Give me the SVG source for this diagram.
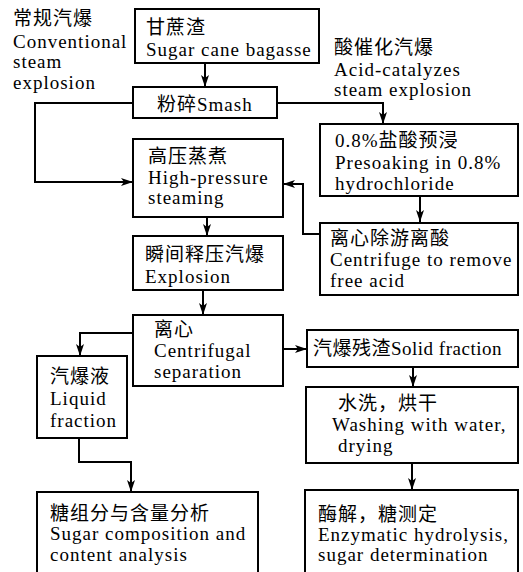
<svg xmlns="http://www.w3.org/2000/svg" width="523" height="572" viewBox="0 0 523 572">
<defs>
<style>
.box{fill:#fff;stroke:#000;stroke-width:2}
.ln{fill:none;stroke:#000;stroke-width:2}
.arr{marker-end:url(#ah)}
text{font-family:"Liberation Serif","Noto Sans CJK SC",serif;font-size:19px;fill:#000;letter-spacing:1px}
</style>
<marker id="ah" markerUnits="userSpaceOnUse" viewBox="0 0 12 8" refX="12" refY="4" markerWidth="12" markerHeight="8" orient="auto">
<path d="M0,0 L12,4 L0,8 L3,4 z" fill="#000"/>
</marker>
</defs>
<rect width="523" height="572" fill="#fff"/>

<g id="label-conventional">
<text x="13" y="25">常规汽爆</text>
<text x="13" y="48">Conventional</text>
<text x="13" y="68">steam</text>
<text x="13" y="89">explosion</text>
</g>
<g id="label-acid">
<text x="334" y="54">酸催化汽爆</text>
<text x="334" y="76">Acid-catalyzes</text>
<text x="334" y="96">steam explosion</text>
</g>

<g id="connectors">
<path class="ln arr" d="M205,63 V87"/>
<path class="ln arr" d="M133,103 H35 V182 H133"/>
<path class="ln arr" d="M277,103 H383 V124"/>
<path class="ln arr" d="M420,196 V222"/>
<path class="ln arr" d="M320,234 H303 V184 H283"/>
<path class="ln arr" d="M207,217 V236"/>
<path class="ln arr" d="M203,290 V315"/>
<path class="ln arr" d="M133,333 H80 V356"/>
<path class="ln arr" d="M283,349 H307"/>
<path class="ln arr" d="M79,438 V462 H131 V492"/>
<path class="ln arr" d="M413,367 V387"/>
<path class="ln arr" d="M412,463 V490"/>
</g>

<g id="bagasse">
<rect class="box" x="135" y="9" width="184" height="54"/>
<text x="146" y="34">甘蔗渣</text>
<text x="146" y="56">Sugar cane bagasse</text>
</g>
<g id="smash">
<rect class="box" x="133" y="87" width="144" height="31"/>
<text x="157" y="111">粉碎Smash</text>
</g>
<g id="presoak">
<rect class="box" x="320" y="124" width="198" height="72"/>
<text x="335" y="147">0.8%盐酸预浸</text>
<text x="335" y="169">Presoaking in 0.8%</text>
<text x="335" y="190">hydrochloride</text>
</g>
<g id="steaming">
<rect class="box" x="133" y="139" width="150" height="78"/>
<text x="148" y="163">高压蒸煮</text>
<text x="148" y="184">High-pressure</text>
<text x="148" y="204">steaming</text>
</g>
<g id="centrifuge-acid">
<rect class="box" x="320" y="223" width="198" height="72"/>
<text x="330" y="245">离心除游离酸</text>
<text x="330" y="266">Centrifuge to remove</text>
<text x="330" y="287">free acid</text>
</g>
<g id="explosion">
<rect class="box" x="133" y="236" width="150" height="54"/>
<text x="145" y="261">瞬间释压汽爆</text>
<text x="145" y="283">Explosion</text>
</g>
<g id="centrifugal">
<rect class="box" x="133" y="315" width="150" height="71"/>
<text x="154" y="336">离心</text>
<text x="154" y="357">Centrifugal</text>
<text x="154" y="378">separation</text>
</g>
<g id="solid">
<rect class="box" x="307" y="330" width="211" height="37"/>
<text x="313" y="355" style="letter-spacing:0.5px">汽爆残渣Solid fraction</text>
</g>
<g id="liquid">
<rect class="box" x="37" y="356" width="90" height="82"/>
<text x="50" y="383">汽爆液</text>
<text x="50" y="405">Liquid</text>
<text x="50" y="427">fraction</text>
</g>
<g id="washing">
<rect class="box" x="306" y="387" width="212" height="76"/>
<text x="338" y="410">水洗，烘干</text>
<text x="332" y="431">Washing with water,</text>
<text x="338" y="452">drying</text>
</g>
<g id="sugar-analysis">
<rect class="box" x="37" y="492" width="221" height="90"/>
<text x="50" y="520">糖组分与含量分析</text>
<text x="50" y="540">Sugar composition and</text>
<text x="50" y="561">content analysis</text>
</g>
<g id="enzymatic">
<rect class="box" x="305" y="490" width="213" height="92"/>
<text x="318" y="521">酶解，糖测定</text>
<text x="318" y="541">Enzymatic hydrolysis,</text>
<text x="318" y="561">sugar determination</text>
</g>
</svg>
